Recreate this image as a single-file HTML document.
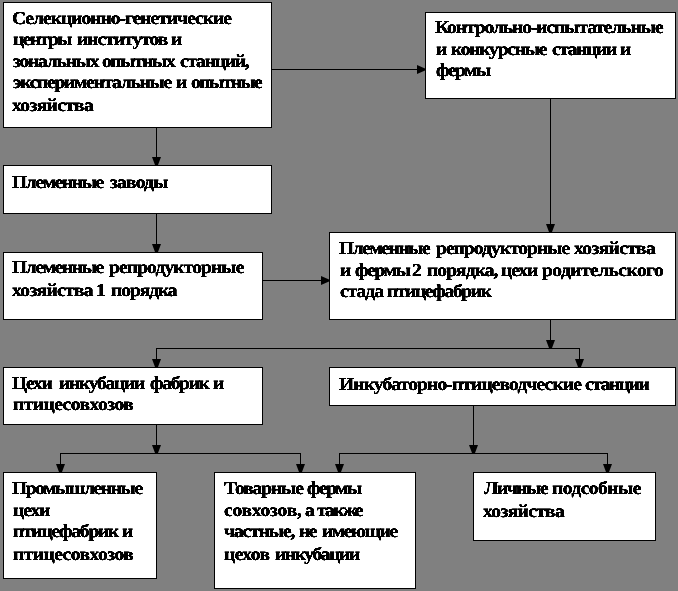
<!DOCTYPE html><html><head><meta charset="utf-8"><style>
html,body{margin:0;padding:0}body{width:678px;height:591px;background:#808080;position:relative;overflow:hidden}
.b{position:absolute;box-sizing:border-box;background:#fff;border:1px solid #000}
.t{position:absolute;white-space:pre;font-family:"Liberation Serif",serif;font-weight:bold;font-size:18.2px;line-height:20px;color:#000;transform:scale(1.07,1.0);transform-origin:0 16px;text-rendering:geometricPrecision;}
svg.c{position:absolute;left:0;top:0}
#txt{position:absolute;left:0;top:0;width:678px;height:591px;filter:url(#bin)}
</style></head><body>
<svg width="0" height="0" style="position:absolute"><defs><filter id="bin" x="0" y="0" width="100%" height="100%" color-interpolation-filters="sRGB"><feComponentTransfer><feFuncA type="linear" slope="3.5" intercept="-0.2"/></feComponentTransfer></filter></defs></svg>
<div class="b" style="left:3px;top:2px;width:269px;height:126px"></div>
<div class="b" style="left:425px;top:12px;width:251px;height:87px"></div>
<div class="b" style="left:3px;top:165px;width:269px;height:49px"></div>
<div class="b" style="left:3px;top:252px;width:260px;height:68px"></div>
<div class="b" style="left:329px;top:232px;width:347px;height:88px"></div>
<div class="b" style="left:3px;top:367px;width:260px;height:58px"></div>
<div class="b" style="left:329px;top:367px;width:347px;height:39px"></div>
<div class="b" style="left:3px;top:472px;width:154px;height:107px"></div>
<div class="b" style="left:214px;top:472px;width:202px;height:117px"></div>
<div class="b" style="left:473px;top:472px;width:183px;height:69px"></div>
<svg class="c" width="678" height="591" viewBox="0 0 678 591"><rect x="272" y="69" width="145" height="1"/><rect x="263" y="280" width="58" height="1"/><rect x="156" y="348" width="424" height="1"/><rect x="60" y="453" width="241" height="1"/><rect x="339" y="453" width="269" height="1"/><rect x="156" y="128" width="1" height="29"/><rect x="156" y="214" width="1" height="30"/><rect x="550" y="99" width="1" height="125"/><rect x="550" y="320" width="1" height="20"/><rect x="156" y="348" width="1" height="11"/><rect x="579" y="348" width="1" height="11"/><rect x="156" y="425" width="1" height="20"/><rect x="60" y="453" width="1" height="11"/><rect x="300" y="453" width="1" height="11"/><rect x="473" y="406" width="1" height="39"/><rect x="339" y="453" width="1" height="11"/><rect x="607" y="453" width="1" height="11"/><polygon points="152.0,157 161.0,157 158.0,165 155.0,165"/><polygon points="152.0,244 161.0,244 158.0,252 155.0,252"/><polygon points="546.0,224 555.0,224 552.0,232 549.0,232"/><polygon points="546.0,340 555.0,340 552.0,348 549.0,348"/><polygon points="152.0,359 161.0,359 158.0,367 155.0,367"/><polygon points="575.0,359 584.0,359 581.0,367 578.0,367"/><polygon points="152.0,445 161.0,445 158.0,453 155.0,453"/><polygon points="56.0,464 65.0,464 62.0,472 59.0,472"/><polygon points="296.0,464 305.0,464 302.0,472 299.0,472"/><polygon points="469.0,445 478.0,445 475.0,453 472.0,453"/><polygon points="335.0,464 344.0,464 341.0,472 338.0,472"/><polygon points="603.0,464 612.0,464 609.0,472 606.0,472"/><polygon points="417,65.0 417,74.0 425,70.5 425,68.5"/><polygon points="321,276.0 321,285.0 329,281.5 329,279.5"/></svg>
<div id="txt">
<div class="t" style="left:12.00px;top:8px;letter-spacing:-0.894px;">Селекционно-генетические</div>
<div class="t" style="left:13.00px;top:29px;letter-spacing:-1.383px;">центры</div>
<div class="t" style="left:76.70px;top:29px;letter-spacing:-0.893px;">институтов</div>
<div class="t" style="left:170.80px;top:29px;">и</div>
<div class="t" style="left:13.00px;top:51px;letter-spacing:-1.098px;">зональных</div>
<div class="t" style="left:102.10px;top:51px;letter-spacing:-1.277px;">опытных</div>
<div class="t" style="left:179.60px;top:51px;letter-spacing:-1.095px;">станций,</div>
<div class="t" style="left:13.00px;top:72px;letter-spacing:-1.145px;">экспериментальные</div>
<div class="t" style="left:175.80px;top:72px;">и</div>
<div class="t" style="left:191.00px;top:72px;letter-spacing:-1.402px;">опытные</div>
<div class="t" style="left:12.00px;top:95px;letter-spacing:-0.584px;">хозяйства</div>
<div class="t" style="left:435.00px;top:17px;letter-spacing:-0.975px;">Контрольно-испытательные</div>
<div class="t" style="left:436.00px;top:39px;">и</div>
<div class="t" style="left:450.80px;top:39px;letter-spacing:-1.101px;">конкурсные</div>
<div class="t" style="left:551.60px;top:39px;letter-spacing:-1.215px;">станции</div>
<div class="t" style="left:619.90px;top:39px;">и</div>
<div class="t" style="left:436.00px;top:60px;letter-spacing:-1.402px;">фермы</div>
<div class="t" style="left:12.00px;top:172px;letter-spacing:-1.238px;">Племенные</div>
<div class="t" style="left:109.90px;top:172px;letter-spacing:-0.710px;">заводы</div>
<div class="t" style="left:12.00px;top:257px;letter-spacing:-1.238px;">Племенные</div>
<div class="t" style="left:109.00px;top:257px;letter-spacing:-0.791px;">репродукторные</div>
<div class="t" style="left:12.00px;top:280px;letter-spacing:-0.607px;">хозяйства</div>
<div class="t" style="left:96.20px;top:280px;">1</div>
<div class="t" style="left:110.60px;top:280px;letter-spacing:-0.966px;">порядка</div>
<div class="t" style="left:339.00px;top:238px;letter-spacing:-1.308px;">Племенные</div>
<div class="t" style="left:435.80px;top:238px;letter-spacing:-0.877px;">репродукторные</div>
<div class="t" style="left:573.50px;top:238px;letter-spacing:-0.584px;">хозяйства</div>
<div class="t" style="left:340.00px;top:260px;">и</div>
<div class="t" style="left:355.00px;top:260px;letter-spacing:-1.215px;">фермы</div>
<div class="t" style="left:411.90px;top:260px;">2</div>
<div class="t" style="left:426.90px;top:260px;letter-spacing:-0.828px;">порядка,</div>
<div class="t" style="left:500.80px;top:260px;letter-spacing:-0.997px;">цехи</div>
<div class="t" style="left:542.10px;top:260px;letter-spacing:-0.483px;">родительского</div>
<div class="t" style="left:340.00px;top:281px;letter-spacing:-0.888px;">стада</div>
<div class="t" style="left:387.40px;top:281px;letter-spacing:-1.252px;">птицефабрик</div>
<div class="t" style="left:12.00px;top:373px;letter-spacing:-1.121px;">Цехи</div>
<div class="t" style="left:58.80px;top:373px;letter-spacing:-1.145px;">инкубации</div>
<div class="t" style="left:149.90px;top:373px;letter-spacing:-1.196px;">фабрик</div>
<div class="t" style="left:213.00px;top:373px;">и</div>
<div class="t" style="left:13.00px;top:394px;letter-spacing:-0.467px;">птицесовхозов</div>
<div class="t" style="left:339.00px;top:374px;letter-spacing:-0.785px;">Инкубаторно-птицеводческие</div>
<div class="t" style="left:584.90px;top:374px;letter-spacing:-1.308px;">станции</div>
<div class="t" style="left:12.00px;top:478px;letter-spacing:-1.274px;">Промышленные</div>
<div class="t" style="left:13.00px;top:500px;letter-spacing:-0.935px;">цехи</div>
<div class="t" style="left:13.00px;top:521px;letter-spacing:-1.121px;">птицефабрик</div>
<div class="t" style="left:121.90px;top:521px;">и</div>
<div class="t" style="left:13.00px;top:544px;letter-spacing:-0.467px;">птицесовхозов</div>
<div class="t" style="left:224.00px;top:478px;letter-spacing:-1.015px;">Товарные</div>
<div class="t" style="left:306.90px;top:478px;letter-spacing:-1.355px;">фермы</div>
<div class="t" style="left:224.00px;top:500px;letter-spacing:-0.187px;">совхозов,</div>
<div class="t" style="left:305.20px;top:500px;">а</div>
<div class="t" style="left:317.10px;top:500px;letter-spacing:-1.589px;">также</div>
<div class="t" style="left:224.00px;top:521px;letter-spacing:-0.988px;">частные,</div>
<div class="t" style="left:298.60px;top:521px;letter-spacing:-1.308px;">не</div>
<div class="t" style="left:321.70px;top:521px;letter-spacing:-1.277px;">имеющие</div>
<div class="t" style="left:224.00px;top:544px;letter-spacing:-0.514px;">цехов</div>
<div class="t" style="left:274.70px;top:544px;letter-spacing:-1.262px;">инкубации</div>
<div class="t" style="left:484.00px;top:478px;letter-spacing:-1.346px;">Личные</div>
<div class="t" style="left:552.00px;top:478px;letter-spacing:-0.467px;">подсобные</div>
<div class="t" style="left:483.00px;top:501px;letter-spacing:-0.584px;">хозяйства</div>
</div>
</body></html>
